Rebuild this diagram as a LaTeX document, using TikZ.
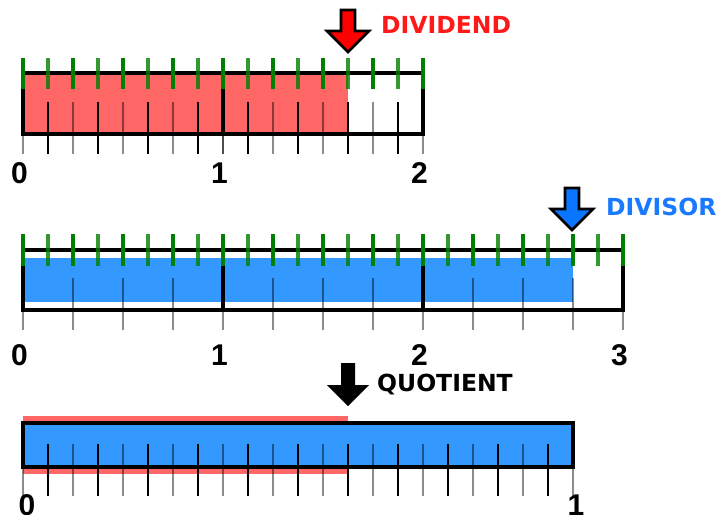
\documentclass[tikz,border=0pt]{standalone}
\usepackage{fontspec}
\newfontfamily\lblfont{DejaVu Sans}
\newfontfamily\numfont{Liberation Sans}
\definecolor{fillred}{HTML}{FF6666}
\definecolor{fillblue}{HTML}{3399FF}
\definecolor{arrred}{HTML}{FF0000}
\definecolor{arrblue}{HTML}{0A75FF}
\definecolor{txtred}{HTML}{FF1A1A}
\definecolor{txtblue}{HTML}{1A7AFF}
\definecolor{tickgreen}{HTML}{008000}
\tikzset{
  frame/.style={draw=black, line width=3.6pt},
  blacktick/.style={draw=black, line width=2.3pt},
  graytick/.style={draw=black, draw opacity=0.45, line width=2.8pt},
  greentick/.style={draw=tickgreen, line width=3.2pt},
  greentickl/.style={draw=tickgreen, draw opacity=0.8, line width=3.2pt},
  arrowbody/.style={draw=black, line width=2.8pt, line join=miter},
  lbl/.style={font=\lblfont\bfseries\fontsize{23.5}{28}\selectfont, inner sep=0pt},
  num/.style={font=\numfont\bfseries\fontsize{30}{34}\selectfont, inner sep=0pt, anchor=base}
}
\begin{document}
\begin{tikzpicture}[x=1pt,y=-1pt]
\useasboundingbox (0,0) rectangle (722,514);

% ---------- top bar: dividend ----------
\fill[fillred] (23,73) rectangle (348,134);
\foreach \i in {1,...,15}{
  \pgfmathsetmacro\xx{23+25*\i}
  \ifodd\i
    \draw[blacktick] (\xx,102) -- (\xx,154);
  \else
    \draw[graytick] (\xx,102) -- (\xx,154);
  \fi
}
\foreach \i in {0,8,16}{
  \pgfmathsetmacro\xx{23+25*\i}
  \draw[graytick] (\xx,134) -- (\xx,154);
}
\draw[frame] (23,73) rectangle (423,134);
\draw[frame] (223,73) -- (223,134);
\foreach \i in {0,...,16}{
  \pgfmathsetmacro\xx{23+25*\i}
  \ifodd\i
    \draw[greentickl] (\xx,58) -- (\xx,89);
  \else
    \draw[greentick] (\xx,58) -- (\xx,89);
  \fi
}
\draw[arrowbody, fill=arrred] (348,52) -- ++(-21,-21) -- ++(14,0) -- ++(0,-21) -- ++(14,0) -- ++(0,21) -- ++(14,0) -- cycle;
\node[lbl, text=txtred, anchor=base west] (dividend) at (381,33) {DIVIDEND};
\node[num] (t0) at (19.5,183) {0};
\node[num] (t1) at (219.5,183) {1};
\node[num] (t2) at (419.5,183) {2};

% ---------- middle bar: divisor ----------
\fill[fillblue] (23,258) rectangle (573,302);
\foreach \i in {0,...,12}{
  \pgfmathsetmacro\xx{23+50*\i}
  \draw[graytick] (\xx,278) -- (\xx,330);
}
\draw[frame] (23,250) rectangle (623,310);
\draw[frame] (223,250) -- (223,310);
\draw[frame] (423,250) -- (423,310);
\foreach \i in {0,...,24}{
  \pgfmathsetmacro\xx{23+25*\i}
  \ifodd\i
    \draw[greentickl] (\xx,234) -- (\xx,266);
  \else
    \draw[greentick] (\xx,234) -- (\xx,266);
  \fi
}
\draw[arrowbody, fill=arrblue] (572,230) -- ++(-21,-21) -- ++(14,0) -- ++(0,-21) -- ++(14,0) -- ++(0,21) -- ++(14,0) -- cycle;
\node[lbl, text=txtblue, anchor=base west] (divisor) at (606,215) {DIVISOR};
\node[num] (m0) at (19.5,365) {0};
\node[num] (m1) at (219.5,365) {1};
\node[num] (m2) at (419.5,365) {2};
\node[num] (m3) at (619.5,365) {3};

% ---------- bottom bar: quotient ----------
\fill[fillred] (23,416) rectangle (348,474);
\fill[fillblue] (23,423) rectangle (573,467);
\foreach \i in {1,...,21}{
  \pgfmathsetmacro\xx{23+25*\i}
  \ifodd\i
    \draw[blacktick] (\xx,444) -- (\xx,496);
  \else
    \draw[graytick] (\xx,444) -- (\xx,496);
  \fi
}
\foreach \i in {0,22}{
  \pgfmathsetmacro\xx{23+25*\i}
  \draw[graytick] (\xx,467) -- (\xx,496);
}
\draw[frame] (23,423) rectangle (573,467);
\fill[black] (348,406) -- ++(-21,-21) -- ++(14,0) -- ++(0,-22) -- ++(14,0) -- ++(0,22) -- ++(14,0) -- cycle;
\node[lbl, anchor=base west] (quotient) at (377,391) {QUOTIENT};
\node[num] (q0) at (27,515) {0};
\node[num] (q1) at (576,515) {1};
\end{tikzpicture}
\end{document}
